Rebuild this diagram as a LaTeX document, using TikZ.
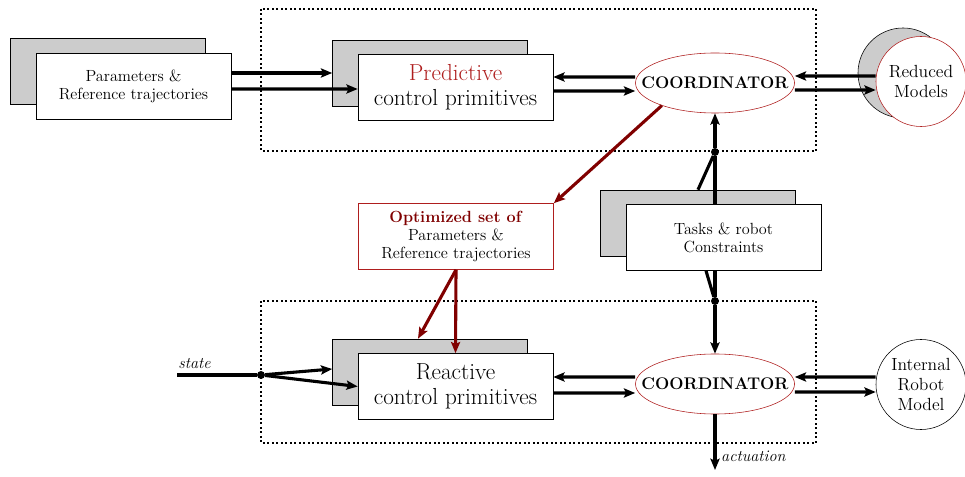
\documentclass[tikz,border=0pt]{standalone}
\usetikzlibrary{arrows.meta, shapes.geometric}
\definecolor{darkred}{RGB}{128,0,0}
\definecolor{edgered}{RGB}{175,30,30}
\definecolor{shade}{RGB}{204,204,204}
\tikzset{
  box/.style={draw, fill=white, minimum width=4.875cm, minimum height=1.65cm, align=center, inner sep=1pt},
  shadowbox/.style={box, fill=shade},
  coord/.style={ellipse, draw=edgered, fill=white, inner sep=0pt, minimum width=3.975cm, minimum height=1.5cm, font=\fontsize{12}{14}\selectfont\bfseries},
  model/.style={circle, draw, fill=white, minimum size=2.25cm, inner sep=0pt, align=center, font=\fontsize{12.5}{14}\selectfont},
  thickline/.style={line width=2.2pt},
  arr/.style={thickline, -{Stealth[length=8pt,width=6.5pt,inset=1.5pt]}},
  redarr/.style={arr, darkred},
  dot/.style={circle, fill, inner sep=0pt, minimum size=0.2cm},
  small/.style={font=\fontsize{11.5}{12.8}\selectfont},
  big/.style={font=\fontsize{16.5}{17.8}\selectfont},
  signal/.style={font=\fontsize{11.5}{13}\selectfont\itshape}
}
\begin{document}
\begin{tikzpicture}[x=0.025cm, y=-0.025cm]
\useasboundingbox (0,0) rectangle (965,477);
\draw[dotted, line width=1.2pt] (261,9) rectangle (816,151);
\draw[dotted, line width=1.2pt] (261,301) rectangle (816,443);

\node[shadowbox] (paramsh) at (108,71.5) {};
\node[box, small] (params) at (133.5,86) {Parameters \&\\Reference trajectories};
\node[shadowbox] (predsh) at (430,73) {};
\node[box, big] (pred) at (455.5,87) {\textcolor{edgered}{Predictive}\\control primitives};
\node[coord] (ctop) at (715,83) {\makebox[0pt]{COORDINATOR}};
\node[model, fill=shade] (redsh) at (903,73) {};
\node[model, draw=edgered] (red) at (921,81.5) {Reduced\\Models};
\node[box, small, draw=edgered] (opt) at (456,236.5) {\textcolor{darkred}{\textbf{Optimized set of}}\\Parameters \&\\Reference trajectories};
\node[shadowbox] (tasksh) at (698,223) {};
\node[box, small] (tasks) at (723.5,237.5) {Tasks \& robot\\Constraints};
\node[shadowbox] (reactsh) at (430,372) {};
\node[box, big] (react) at (455.5,386.5) {Reactive\\control primitives};
\node[coord] (cbot) at (715,384) {\makebox[0pt]{COORDINATOR}};
\node[model] (robot) at (921,384.5) {Internal\\Robot\\Model};

\node[dot] (jtop) at (715,152) {};
\node[dot] (jbot) at (715,301) {};
\node[dot] (jstate) at (261,375) {};
\coordinate (statein) at (177,375);
\coordinate (actout) at (715,470);

\draw[arr] (params.east |- predsh.west) -- (predsh.west);
\draw[arr] ([yshift=-0.075cm]params.east) -- ([yshift=-0.05cm]pred.west);
\draw[arr] ([yshift=0.15cm]ctop.west) -- ([yshift=0.25cm]pred.east);
\draw[arr] ([yshift=-0.1cm]pred.east) -- ([yshift=-0.2cm]ctop.west);
\draw[arr] ([yshift=0.1375cm]red.west) -- ([yshift=0.175cm]ctop.east);
\draw[arr] ([yshift=-0.175cm]ctop.east) -- ([yshift=-0.2125cm]red.west);
\draw[redarr] (ctop.203) -- (opt.north east);

\draw[thickline] (tasksh.north) -- (jtop);
\draw[thickline] (tasks.north -| jtop) -- (jtop);
\draw[arr] (jtop) -- (ctop.south);
\draw[thickline] ([xshift=-0.4375cm]tasks.south) -- (jbot);
\draw[thickline] (tasks.south -| jbot) -- (jbot);
\draw[arr] (jbot) -- (cbot.north);

\draw[redarr] (opt.south) -- ([xshift=-0.3cm]reactsh.north);
\draw[redarr] (opt.south) -- (react.north);

\draw[thickline] (statein) -- node[above, pos=0.22, signal] {state} (jstate);
\draw[arr] (jstate) -- ([yshift=0.075cm]reactsh.west);
\draw[arr] (jstate) -- (react.west);

\draw[arr] ([yshift=0.175cm]cbot.west) -- ([yshift=0.2375cm]react.east);
\draw[arr] ([yshift=-0.1625cm]react.east) -- ([yshift=-0.225cm]cbot.west);
\draw[arr] ([yshift=0.1875cm]robot.west) -- ([yshift=0.175cm]cbot.east);
\draw[arr] ([yshift=-0.2cm]cbot.east) -- ([yshift=-0.1875cm]robot.west);
\draw[arr] (cbot.south) -- node[right, pos=0.75, signal] {actuation} (actout);
\end{tikzpicture}
\end{document}
